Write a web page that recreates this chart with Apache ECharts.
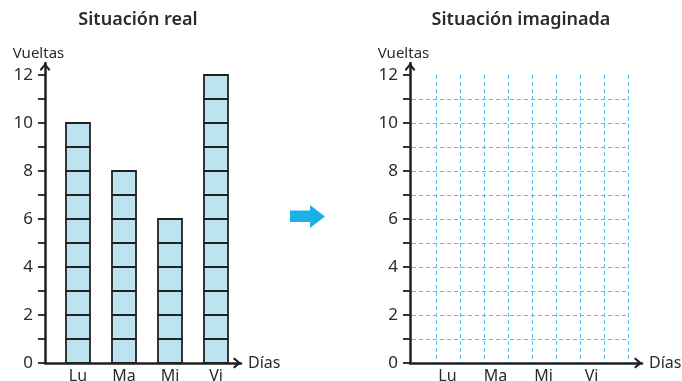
<!DOCTYPE html>
<html>
<head>
<meta charset="utf-8">
<script src="https://cdn.jsdelivr.net/npm/echarts@6/dist/echarts.min.js"></script>
<style>
  html, body { margin: 0; padding: 0; background: #fff; }
  #chart { width: 682px; height: 381px; }
</style>
</head>
<body>
<div id="chart"></div>
<script>
// Laps per weekday (real situation)
const days = ['Lu', 'Ma', 'Mi', 'Vi'];
const laps = [10, 8, 6, 12];
const yTickValues = [0, 1, 2, 3, 4, 5, 6, 7, 8, 9, 10, 11, 12];
const yLabelValues = [0, 2, 4, 6, 8, 10, 12];
const titles = ['Situación real', 'Situación imaginada'];
const yName = 'Vueltas';
const xName = 'Días';

const FONT = 'Noto Sans';
const INK = '#231f20';
const TEXT = '#2b2b2b';
const GRID_BLUE = '#4fc0ec';
const CELL_FILL = '#bde3f0';
const CELL_STROKE = '#222222';
const CELL_WIDTH = 24;

// open chevron used as the arrow head of both axes (points up in symbol space)
const chevron = 'path://M5,0 L10,6 L8.6,7.4 L5,3 L1.4,7.4 L0,6 Z';

function frameAxes(gridIndex) {
  const axisLine = {
    show: true,
    symbol: ['none', chevron],
    symbolSize: [12, 8],
    symbolOffset: [0, -4],
    lineStyle: { color: INK, width: 2.5 }
  };
  return {
    x: {
      type: 'value', gridIndex, min: 0, max: 1,
      axisLine,
      axisTick: { show: false }, axisLabel: { show: false }, splitLine: { show: false },
      name: xName, nameLocation: 'end', nameGap: 7,
      nameTextStyle: { fontFamily: FONT, fontSize: 16, color: TEXT, verticalAlign: 'middle', padding: [0, 0, 4, 0] }
    },
    y: {
      type: 'value', gridIndex, min: 0, max: 12.5,
      axisLine,
      axisTick: { show: true, length: 7, customValues: yTickValues, lineStyle: { color: INK, width: 1.8 } },
      axisLabel: { show: true, margin: 12, customValues: yLabelValues, fontFamily: FONT, fontSize: 17, color: TEXT },
      splitLine: { show: false },
      name: yName, nameLocation: 'end', nameGap: 2,
      nameTextStyle: { fontFamily: FONT, fontSize: 15, color: TEXT, padding: [0, 13, 0, 0] }
    }
  };
}

function categoryAxes(gridIndex) {
  return {
    x: {
      type: 'category', gridIndex, data: days,
      axisLine: { show: false }, axisTick: { show: false }, splitLine: { show: false },
      axisLabel: { margin: 5, fontFamily: FONT, fontSize: 16, color: TEXT }
    },
    y: {
      type: 'value', gridIndex, min: 0, max: 12, show: false
    }
  };
}

const leftFrame = frameAxes(0);
const leftBars = categoryAxes(1);
const rightFrame = frameAxes(2);
const rightCats = categoryAxes(4);

// dashed squared paper of the empty chart
const dashed = { type: [4, 3], color: GRID_BLUE, width: 1 };
const paperX = {
  type: 'value', gridIndex: 3, min: 0, max: 9, interval: 1,
  axisLine: { show: false }, axisTick: { show: false }, axisLabel: { show: false },
  splitLine: { show: true, showMinLine: false, showMaxLine: true, lineStyle: dashed }
};
const paperY = {
  type: 'value', gridIndex: 3, min: 0, max: 12, interval: 1,
  axisLine: { show: false }, axisTick: { show: false }, axisLabel: { show: false },
  splitLine: { show: true, showMinLine: false, showMaxLine: false, lineStyle: dashed }
};

// each bar is a column of unit squares, one per lap
function renderStack(params, api) {
  const cat = api.value(0);
  const value = api.value(1);
  const children = [];
  for (let k = 0; k < value; k++) {
    const bottom = api.coord([cat, k]);
    const top = api.coord([cat, k + 1]);
    children.push({
      type: 'rect',
      shape: { x: bottom[0] - CELL_WIDTH / 2, y: top[1], width: CELL_WIDTH, height: bottom[1] - top[1] },
      style: { fill: CELL_FILL, stroke: CELL_STROKE, lineWidth: 1.8 }
    });
  }
  return { type: 'group', children };
}

const gridBase = { outerBoundsMode: 'none', containLabel: false };

const chart = echarts.init(document.getElementById('chart'), null, { renderer: 'canvas' });
chart.setOption({
  animation: false,
  backgroundColor: '#ffffff',
  title: [
    { text: titles[0], left: 133, top: 6, textAlign: 'center',
      textStyle: { fontFamily: FONT, fontSize: 18, fontWeight: 600, color: TEXT } },
    { text: titles[1], left: 516, top: 6, textAlign: 'center',
      textStyle: { fontFamily: FONT, fontSize: 18, fontWeight: 600, color: TEXT } }
  ],
  grid: [
    Object.assign({ left: 45, top: 63, width: 196, height: 300 }, gridBase),
    Object.assign({ left: 55, top: 75, width: 184, height: 288 }, gridBase),
    Object.assign({ left: 410, top: 63, width: 232, height: 300 }, gridBase),
    Object.assign({ left: 412, top: 75, width: 216, height: 288 }, gridBase),
    Object.assign({ left: 423.5, top: 75, width: 192, height: 288 }, gridBase)
  ],
  xAxis: [leftFrame.x, leftBars.x, rightFrame.x, paperX, rightCats.x],
  yAxis: [leftFrame.y, leftBars.y, rightFrame.y, paperY, rightCats.y],
  series: [
    {
      type: 'custom',
      xAxisIndex: 1, yAxisIndex: 1,
      data: laps.map((v, i) => [days[i], v]),
      renderItem: renderStack,
      z: 3
    }
  ],
  graphic: [
    {
      type: 'polygon',
      shape: { points: [[290, 210.5], [310, 210.5], [310, 205], [325, 216.5], [310, 228], [310, 222], [290, 222]] },
      style: { fill: '#1cb0e8' }
    }
  ]
});
</script>
</body>
</html>
